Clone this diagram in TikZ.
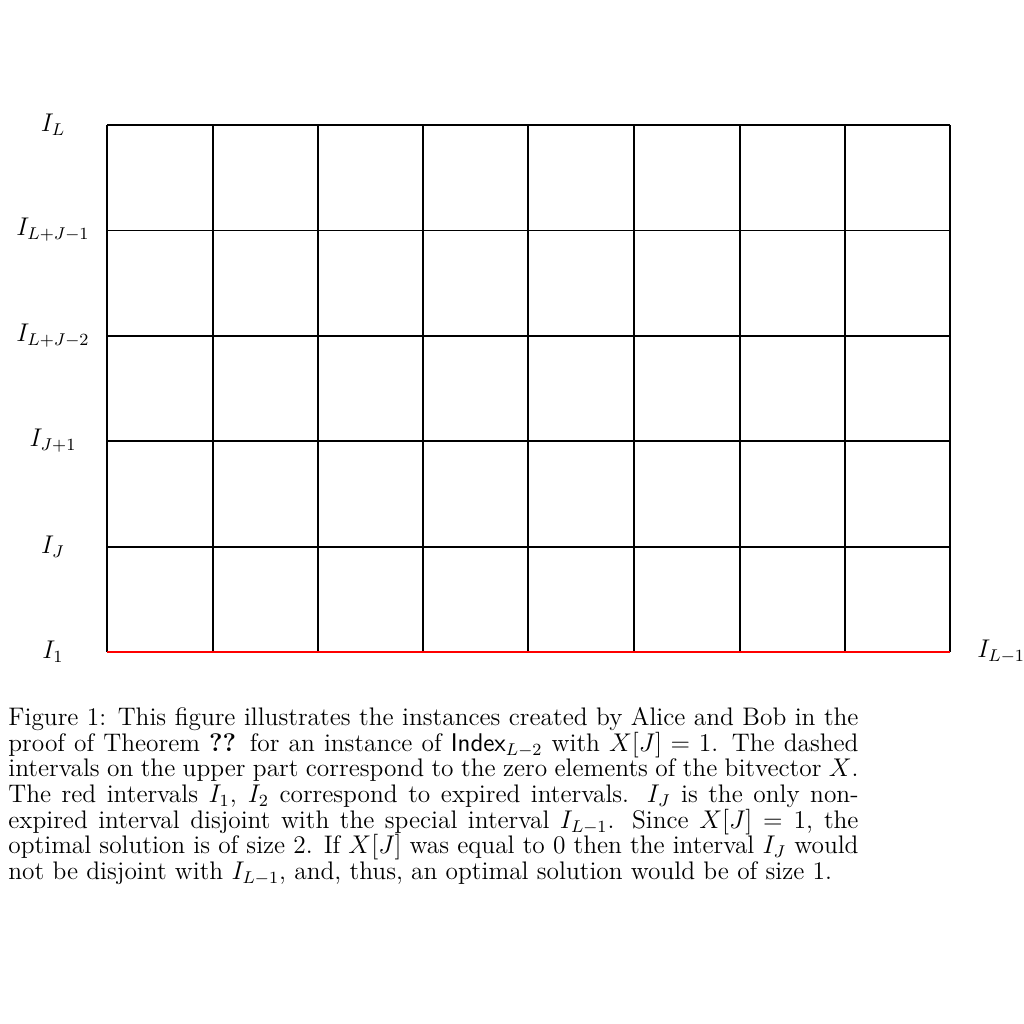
\documentclass[tikz,border=0pt]{standalone}
\begin{document}
\begin{tikzpicture}[x=0.46875pt,y=-0.46875pt,
  gridline/.style={line width=0.9pt,black},
  thinline/.style={line width=0.45pt,black},
  redline/.style={line width=0.9pt,red},
  lbl/.style={inner sep=0pt,anchor=center,font=\fontsize{11.9}{12}\selectfont},
  captionbox/.style={inner sep=0pt,anchor=north west,text width=398.5pt,align=justify,font=\fontsize{11.9}{12.03}\selectfont}]
\useasboundingbox (0,0) rectangle (1024,1024);
% vertical lines
\foreach \x in {107,213,318,423,528,634,740,845,950}
  \draw[gridline] (\x,125) -- (\x,652);
% horizontal lines
\foreach \y in {125,336,441,547}
  \draw[gridline] (107,\y) -- (950,\y);
\draw[thinline] (107,230) -- (950,230);
\draw[redline] (107,652) -- (950,652);
% labels
\node[lbl] (l1) at (53,125) {$I_L$};
\node[lbl] (l2) at (53,230) {$I_{L+J-1}$};
\node[lbl] (l3) at (53,336) {$I_{L+J-2}$};
\node[lbl] (l4) at (53,441) {$I_{J+1}$};
\node[lbl] (l5) at (53,547) {$I_J$};
\node[lbl] (l6) at (53,652) {$I_1$};
\node[lbl,anchor=west] (r1) at (977,652) {$I_{L-1}$};
% caption
\node[captionbox] (caption) at (8,707) {\tolerance=9999\hbadness=10000\hfuzz=3pt Figure 1: This figure illustrates the instances created by Alice and Bob in the\linebreak proof of Theorem \textbf{??} for an instance of $\mathsf{Index}_{L-2}$ with $X[J]=1$. The dashed\linebreak intervals on the upper part correspond to the zero elements of the bitvector $X$.\linebreak The red intervals $I_1$, $I_2$ correspond to expired intervals. $I_J$ is the only non-\linebreak expired interval disjoint with the special interval $I_{L-1}$. Since $X[J]=1$, the\linebreak optimal solution is of size 2. If $X[J]$ was equal to 0 then the interval $I_J$ would\linebreak not be disjoint with $I_{L-1}$, and, thus, an optimal solution would be of size 1.};
\end{tikzpicture}
\end{document}
